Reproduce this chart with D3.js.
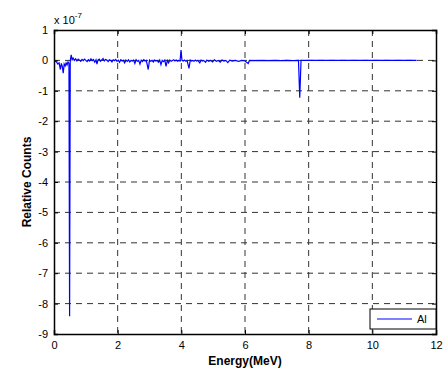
<!DOCTYPE html>
<html><head><meta charset="utf-8">
<script src="https://cdn.jsdelivr.net/npm/d3@7"></script>
<style>body{margin:0;background:#fff}svg{display:block;font-family:"Liberation Sans",Arial,sans-serif}</style>
</head><body>
<svg id="c" width="447" height="372"></svg>
<script>
const xTicks = [0, 2, 4, 6, 8, 10, 12];
const yTicks = [1, 0, -1, -2, -3, -4, -5, -6, -7, -8, -9];
const seriesName = "Al";
const energy = [0.00,0.04,0.08,0.12,0.16,0.20,0.23,0.26,0.29,0.32,0.35,0.38,0.41,0.44,0.47,0.49,0.51,0.54,0.57,0.60,0.64,0.68,0.72,0.76,0.80,0.84,0.88,0.92,0.96,1.00,1.04,1.08,1.12,1.16,1.20,1.24,1.28,1.32,1.35,1.38,1.42,1.46,1.50,1.54,1.58,1.62,1.66,1.70,1.74,1.78,1.82,1.86,1.90,1.94,1.98,2.02,2.06,2.10,2.14,2.18,2.22,2.26,2.30,2.34,2.38,2.42,2.46,2.50,2.54,2.58,2.62,2.66,2.70,2.74,2.78,2.82,2.86,2.90,2.96,3.00,3.04,3.08,3.12,3.16,3.20,3.24,3.28,3.32,3.36,3.40,3.44,3.48,3.52,3.56,3.60,3.64,3.68,3.72,3.76,3.80,3.84,3.88,3.92,3.96,3.99,4.02,4.06,4.10,4.14,4.18,4.24,4.28,4.32,4.36,4.40,4.44,4.48,4.52,4.58,4.62,4.66,4.70,4.76,4.80,4.86,4.92,4.98,5.04,5.10,5.16,5.22,5.28,5.34,5.40,5.46,5.52,5.60,5.70,5.80,5.90,6.00,6.10,6.14,6.30,6.50,6.70,6.90,7.10,7.30,7.50,7.68,7.72,7.76,8.00,9.00,10.00,11.39];
const counts = [0.00,-0.02,-0.05,-0.12,-0.08,-0.30,-0.10,-0.20,-0.42,-0.12,-0.18,-0.08,-0.15,-0.05,-0.10,-8.42,-0.02,0.18,0.02,0.08,0.00,0.05,-0.02,0.04,0.01,-0.03,0.03,-0.01,0.04,0.00,-0.04,0.02,-0.02,0.05,-0.01,0.03,-0.06,0.02,-0.12,0.01,0.04,-0.03,0.02,0.06,-0.02,0.03,0.01,-0.04,0.02,0.00,-0.05,0.02,-0.01,0.03,-0.03,0.01,-0.06,0.02,-0.02,0.00,-0.08,0.01,-0.03,0.02,-0.05,0.00,-0.02,0.01,-0.10,0.02,-0.03,0.00,-0.12,0.01,-0.04,0.02,-0.02,0.00,-0.30,0.01,-0.03,0.00,-0.05,0.01,-0.02,0.00,-0.06,0.01,-0.14,0.00,-0.04,0.01,-0.20,0.00,-0.08,0.01,-0.03,0.00,0.02,-0.02,0.01,-0.03,0.00,-0.02,0.34,0.00,-0.02,0.01,-0.03,0.00,-0.26,0.01,-0.02,0.00,-0.03,0.01,-0.02,0.00,-0.08,0.01,-0.02,0.00,-0.06,0.01,-0.03,0.00,-0.05,0.02,-0.03,0.00,-0.06,0.01,-0.02,0.00,-0.07,0.01,-0.02,0.00,-0.03,0.00,-0.02,-0.10,0.00,-0.01,0.00,-0.01,0.00,-0.01,0.00,-0.01,0.00,-1.23,0.00,0.00,0.00,0.00,0.00];

const L = 54, R = 436, T = 30, B = 334;
const svg = d3.select("#c");
const x = d3.scaleLinear().domain([0, 12]).range([L, R]);
const y = d3.scaleLinear().domain([-9, 1]).range([B, T]);

// grid
const g = svg.append("g");
g.selectAll(".gx").data(xTicks.filter(t => t > 0 && t < 12)).join("line")
  .attr("x1", d => x(d)).attr("x2", d => x(d)).attr("y1", T).attr("y2", B)
  .attr("stroke", "#333").attr("stroke-width", 1).attr("stroke-dasharray", "6,5");
g.selectAll(".gy").data(yTicks.filter(t => t > -9 && t < 1)).join("line")
  .attr("x1", L).attr("x2", R).attr("y1", d => y(d)).attr("y2", d => y(d))
  .attr("stroke", "#333").attr("stroke-width", 1).attr("stroke-dasharray", "6,5");

// clip
svg.append("clipPath").attr("id", "clip").append("rect")
  .attr("x", L).attr("y", T).attr("width", R - L).attr("height", B - T);

const pts = energy.map((e, i) => [e, counts[i]]);
svg.append("path").datum(pts).attr("clip-path", "url(#clip)")
  .attr("d", d3.line().x(d => x(d[0])).y(d => y(d[1])))
  .attr("fill", "none").attr("stroke", "#0000ff").attr("stroke-width", 1.2);

// axes
const ax = d3.axisBottom(x).tickValues(xTicks).tickSize(-4).tickPadding(7).tickFormat(d3.format("d"));
const ay = d3.axisLeft(y).tickValues(yTicks).tickSize(-4).tickPadding(6).tickFormat(d => d);
const gX = svg.append("g").attr("transform", `translate(0,${B})`).call(ax);
const gY = svg.append("g").attr("transform", `translate(${L},0)`).call(ay);
const gX2 = svg.append("g").attr("transform", `translate(0,${T})`).call(d3.axisTop(x).tickValues(xTicks).tickSize(-4).tickFormat(""));
const gY2 = svg.append("g").attr("transform", `translate(${R},0)`).call(d3.axisRight(y).tickValues(yTicks).tickSize(-4).tickFormat(""));
[gX, gY, gX2, gY2].forEach(a => {
  a.select(".domain").attr("stroke", "#000").attr("stroke-width", 1.5);
  a.selectAll(".tick line").attr("stroke", "#000");
  a.selectAll("text").attr("font-size", 11).attr("fill", "#000").attr("font-family", "Liberation Sans, Arial, sans-serif");
});

// exponent label
const ex = svg.append("text").attr("x", L).attr("y", 24).attr("font-size", 11).attr("fill", "#000");
ex.append("tspan").text("x 10");
ex.append("tspan").attr("dy", -6).attr("font-size", 8).text("-7");

// axis titles
svg.append("text").attr("x", (L + R) / 2).attr("y", 365).attr("text-anchor", "middle")
  .attr("font-size", 12).attr("font-weight", "bold").text("Energy(MeV)");
svg.append("text").attr("transform", `translate(31,${(T + B) / 2}) rotate(-90)`).attr("text-anchor", "middle")
  .attr("font-size", 12).attr("font-weight", "bold").text("Relative Counts");

// legend
const lg = svg.append("g");
lg.append("rect").attr("x", 370).attr("y", 309).attr("width", R - 370).attr("height", 20)
  .attr("fill", "#fff").attr("stroke", "#000").attr("stroke-width", 1);
lg.append("line").attr("x1", 377).attr("x2", 412).attr("y1", 319).attr("y2", 319)
  .attr("stroke", "#0000ff").attr("stroke-width", 1.2);
lg.append("text").attr("x", 417).attr("y", 323).attr("font-size", 11).text(seriesName);
</script>
</body></html>
